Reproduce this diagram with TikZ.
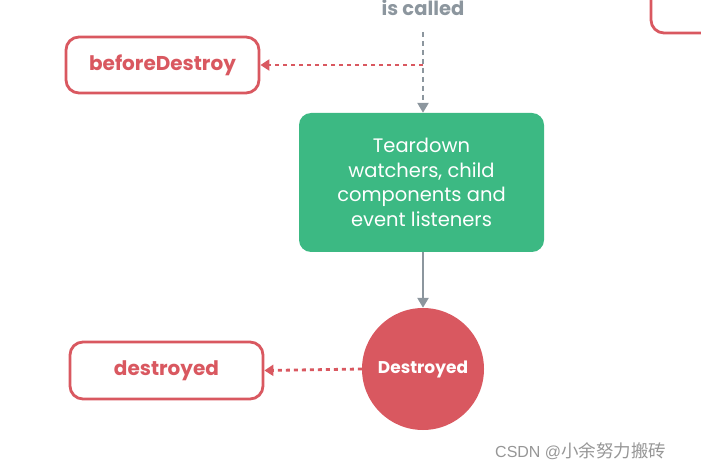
\documentclass[tikz,border=0pt]{standalone}
\usepackage{fontspec}
\setmainfont{Poppins}
\newfontfamily\cjk{Noto Sans CJK SC}
\newfontfamily\wmfont{Liberation Sans}
\usetikzlibrary{arrows.meta}
\definecolor{vred}{RGB}{217,88,96}
\definecolor{vgreen}{RGB}{60,185,131}
\definecolor{vgray}{RGB}{140,150,158}
\definecolor{wm}{RGB}{150,150,150}
\tikzset{
  hookbox/.style={draw=vred, line width=2.8pt, rounded corners=13pt, fill=white, text=vred, font=\fontsize{20}{22}\selectfont\bfseries, inner sep=0pt},
  redarrow/.style={draw=vred, line width=2.8pt, dash pattern=on 4pt off 4pt, -{Triangle[width=11pt,length=9pt]}},
  grayarrow/.style={draw=vgray, line width=2.4pt, -{Triangle[width=11pt,length=10pt]}},
}
\begin{document}
\begin{tikzpicture}[x=1pt,y=-1pt]
\useasboundingbox (0,0) rectangle (701,470);
\clip (0,0) rectangle (701,470);
% partial box top right
\draw[draw=vred, line width=2.8pt, rounded corners=13pt] (651,-30) rectangle (730,33);
% is called text
\node[anchor=base, text=vgray, font=\fontsize{19.5}{22}\selectfont\bfseries, inner sep=0pt] (called) at (423,16) {is called};
\coordinate (ctop) at (423,32);
\coordinate (cmid) at (423,65);
% beforeDestroy
\node[hookbox, minimum width=193pt, minimum height=56pt] (bd) at (162.5,65) {beforeDestroy};
% green box
\node[fill=vgreen, rounded corners=12pt, minimum width=245pt, minimum height=139pt, text=white, align=center, font=\fontsize{19.5}{24.5}\selectfont, inner sep=0pt] (td) at (421.5,182.5) {Teardown\\watchers, child\\components and\\event listeners};
% destroyed circle
\node[circle, fill=vred, minimum size=122pt, inner sep=0pt, text=white, font=\fontsize{17}{19}\selectfont\bfseries] (ds) at (423,369) {Destroyed};
% destroyed box
\node[hookbox, minimum width=193pt, minimum height=57pt] (dd) at (166.5,370.5) {destroyed};
% connectors
\draw[grayarrow, dash pattern=on 5pt off 4pt] (ctop) -- (td.north -| ctop);
\draw[redarrow] (cmid) -- (bd.east);
\draw[grayarrow] (td.south -| ds) -- (ds.north);
\draw[redarrow] (ds.west) -- (dd.east);
% watermark
\node[anchor=base west, text=wm, inner sep=0pt] (wmk) at (495,457) {\fontsize{16}{18}\selectfont\wmfont CSDN @\fontsize{17.5}{18}\selectfont\cjk 小余努力搬砖};
\end{tikzpicture}
\end{document}
